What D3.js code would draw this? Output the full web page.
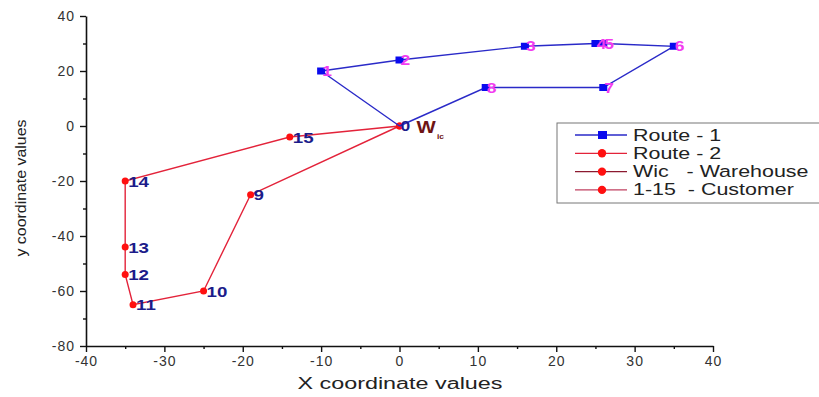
<!DOCTYPE html>
<html><head><meta charset="utf-8">
<script src="https://cdn.jsdelivr.net/npm/d3@7"></script>
<style>body{margin:0;background:#fff}svg{display:block}text{font-family:"Liberation Sans",Arial,sans-serif}</style>
</head><body><svg id="c" width="819" height="397"></svg>
<script>
const route1Ids = [0, 1, 2, 3, 4, 5, 6, 7, 8, 0];
const route1X = [0, -10, 0, 16, 25, 26, 35, 26, 11, 0];
const route1Y = [0, 20, 24, 29, 30, 30, 29, 14, 14, 0];
const route2Ids = [0, 15, 14, 13, 12, 11, 10, 9, 0];
const route2X = [0, -14, -35, -35, -35, -34, -25, -19, 0];
const route2Y = [0, -4, -20, -44, -54, -65, -60, -25, 0];
const xTicks = [-40, -30, -20, -10, 0, 10, 20, 30, 40];
const yTicks = [-80, -60, -40, -20, 0, 20, 40];
const legendLabels = ["Route - 1", "Route - 2", "Wic   - Warehouse", "1-15  - Customer"];

const svg = d3.select("#c");
const x = d3.scaleLinear().domain([-40, 40]).range([86, 713]);
const y = d3.scaleLinear().domain([-80, 40]).range([346, 16]);
const fmt = d => String(d);

// axes
const xAxis = svg.append("g").attr("transform", "translate(0,346)")
  .call(d3.axisBottom(x).tickValues(xTicks).tickFormat(fmt).tickSize(6).tickSizeOuter(0).tickPadding(4));
const xMinor = svg.append("g").attr("transform", "translate(0,346)")
  .call(d3.axisBottom(x).tickValues(d3.range(-35, 40, 10)).tickSize(3).tickFormat(""));
const yAxis = svg.append("g").attr("transform", "translate(86,0)")
  .call(d3.axisLeft(y).tickValues(yTicks).tickFormat(fmt).tickSize(6).tickSizeOuter(0).tickPadding(5));
const yMinor = svg.append("g").attr("transform", "translate(86,0)")
  .call(d3.axisLeft(y).tickValues(d3.range(-70, 40, 20)).tickSize(3).tickFormat(""));
[xAxis, xMinor, yAxis, yMinor].forEach(g => {
  g.selectAll("path.domain").attr("stroke", "#111").attr("stroke-width", 1.6);
  g.selectAll("line").attr("stroke", "#111").attr("stroke-width", 1.4);
  g.selectAll("text").attr("font-size", 14).attr("fill", "#333")
    .attr("font-family", "Liberation Sans, Arial, sans-serif").attr("letter-spacing", "1px");
});
xMinor.select("path.domain").remove();
yMinor.select("path.domain").remove();

svg.append("text").attr("x", 400).attr("y", 389).attr("text-anchor", "middle")
  .attr("font-size", 16).attr("fill", "#222").attr("textLength", 205).attr("lengthAdjust", "spacingAndGlyphs")
  .text("X coordinate values");
svg.append("text").attr("transform", "translate(26,188) rotate(-90)").attr("text-anchor", "middle")
  .attr("font-size", 15.5).attr("fill", "#222").attr("textLength", 137).attr("lengthAdjust", "spacingAndGlyphs")
  .text("y coordinate values");

const line = d3.line().x(d => x(d[0])).y(d => y(d[1]));
const r1 = route1X.map((v, i) => [v, route1Y[i], route1Ids[i]]);
const r2 = route2X.map((v, i) => [v, route2Y[i], route2Ids[i]]);

// Route 2
svg.append("path").datum(r2).attr("d", line).attr("fill", "none")
  .attr("stroke", "#e3233a").attr("stroke-width", 1.4);
svg.selectAll(".m2").data(r2).enter().append("circle")
  .attr("cx", d => x(d[0])).attr("cy", d => y(d[1])).attr("r", 3.5).attr("fill", "#ff1010");
// Route 1
svg.append("path").datum(r1).attr("d", line).attr("fill", "none")
  .attr("stroke", "#2a2ac8").attr("stroke-width", 1.4);
svg.selectAll(".m1").data(r1.filter(d => d[2] !== 0)).enter().append("rect")
  .attr("x", d => x(d[0]) - 4).attr("y", d => y(d[1]) - 3.5).attr("width", 8).attr("height", 7)
  .attr("fill", "#0a0aee");

// labels (stretched horizontally like the reference)
function stretchText(px, py, t, size, color, sx) {
  return svg.append("g").attr("transform", `translate(${px},${py}) scale(${sx},1)`)
    .append("text").attr("font-size", size).attr("font-weight", "bold").attr("fill", color).text(t);
}
r1.filter(d => d[2] !== 0).forEach(d => stretchText(x(d[0]) + 1, y(d[1]) + 5, d[2], 14, "#f23cf0", 1.25));
r2.filter(d => d[2] !== 0).forEach(d => stretchText(x(d[0]) + 3, y(d[1]) + 5.5, d[2], 15, "#1c1c8a", 1.25));
stretchText(x(0) + 1, y(0) + 5, "0", 14, "#1c1c8a", 1.25);
const wg = svg.append("g").attr("transform", `translate(${x(0) + 17},${y(0) + 7}) scale(1.2,1)`);
const w = wg.append("text").attr("font-size", 17).attr("font-weight", "bold").attr("fill", "#6e1414");
w.append("tspan").text("W");
w.append("tspan").attr("font-size", 7).attr("dy", 6).attr("dx", 1).text("ic");

// legend
const lg = svg.append("g");
lg.append("rect").attr("x", 557).attr("y", 123).attr("width", 280).attr("height", 80)
  .attr("fill", "#fff").attr("stroke", "#777").attr("stroke-width", 1);
const legendColors = ["#2a2ac8", "#e3233a", "#8c1a30", "#c04060"];
legendLabels.forEach((t, i) => {
  const yy = 135 + i * 18.3;
  lg.append("line").attr("x1", 575).attr("x2", 627).attr("y1", yy).attr("y2", yy)
    .attr("stroke", legendColors[i]).attr("stroke-width", 1.3);
  if (i === 0) lg.append("rect").attr("x", 598).attr("y", yy - 4).attr("width", 9).attr("height", 8).attr("fill", "#0a0aee");
  else lg.append("circle").attr("cx", 602).attr("cy", yy).attr("r", 4.2).attr("fill", "#ff1010");
  lg.append("g").attr("transform", `translate(633,${yy + 5.5}) scale(1.3,1)`)
    .append("text").attr("font-size", 16.5).attr("fill", "#222")
    .attr("xml:space", "preserve").style("white-space", "pre").text(t);
});
</script></body></html>
